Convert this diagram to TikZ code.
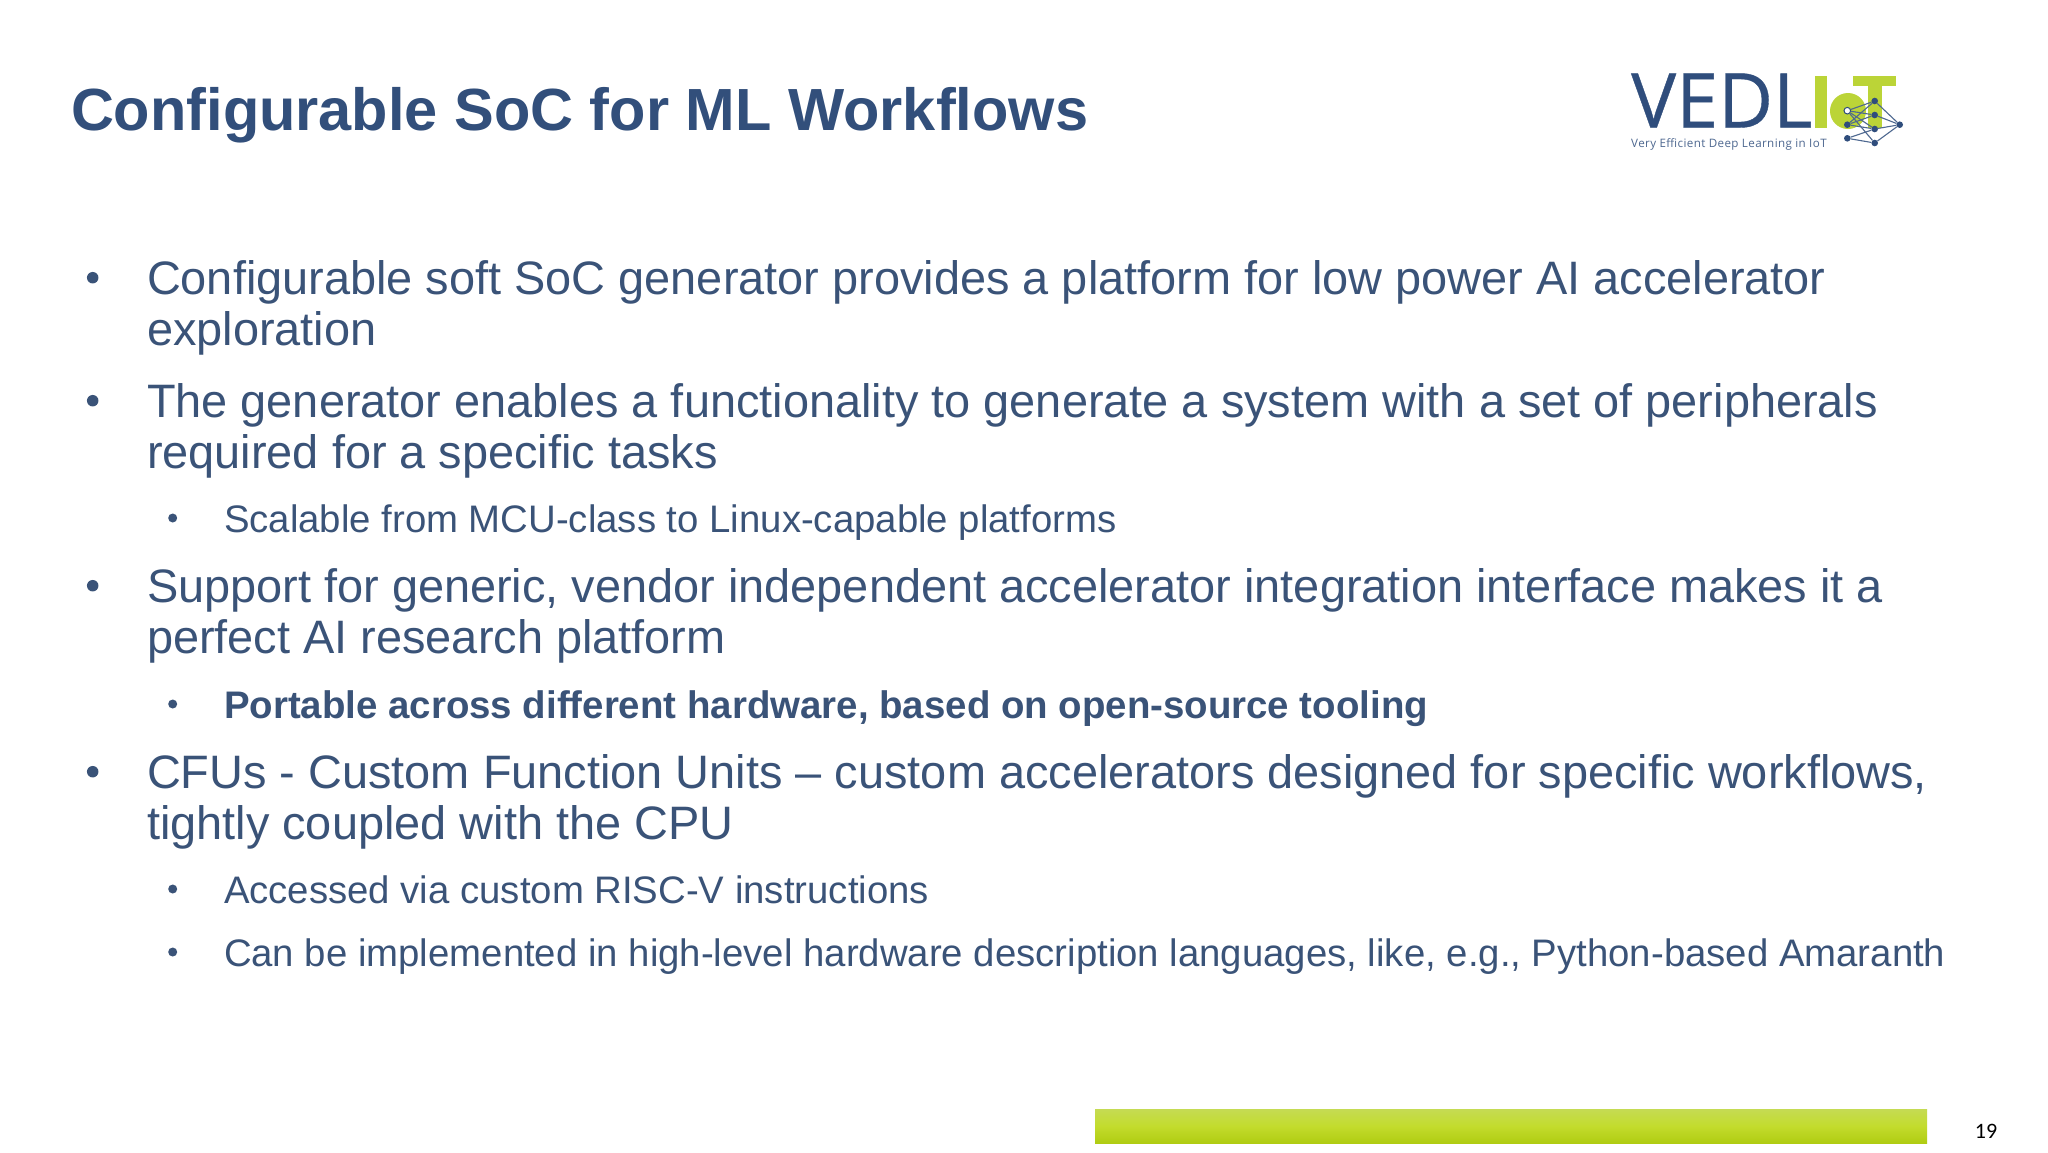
\documentclass[tikz,border=0pt]{standalone}
\usepackage{fontspec}
\setmainfont{Liberation Sans}
\newfontfamily\logofont[FakeBold=0.5]{Open Sans}
\newfontfamily\tagfont[LetterSpace=3.4]{Open Sans}
\newfontfamily\pagefont{Carlito}
\definecolor{slate}{HTML}{3A5378}
\definecolor{titleblue}{HTML}{324F7B}
\definecolor{logoblue}{HTML}{2F4D7C}
\definecolor{lime}{HTML}{BBD437}
\definecolor{barTop}{HTML}{C5DB53}
\definecolor{barMid}{HTML}{C3DC2D}
\definecolor{barBot}{HTML}{B0CC12}
\tikzset{
  x=1pt,y=-1pt,
  txt/.style={anchor=base west,inner sep=0,outer sep=0,text=slate},
  lvlA/.style={txt,font=\fontsize{46.9}{51}\selectfont},
  lvlB/.style={txt,font=\fontsize{38.33}{46}\selectfont},
  dotA/.style={circle,fill=slate,inner sep=0,minimum size=11.5pt},
  dotB/.style={circle,fill=slate,inner sep=0,minimum size=9pt},
  net/.style={draw=logoblue!85!white,line width=1.1pt},
  neuron/.style={circle,fill=logoblue,inner sep=0,minimum size=6.6pt},
}
\begin{document}
\begin{tikzpicture}
\useasboundingbox (0,0) rectangle (2048,1152);
\fill[white] (0,0) rectangle (2048,1152);
\node[txt,text=titleblue,font=\bfseries\fontsize{59.5}{66}\selectfont] (title) at (71,130) {Configurable SoC for ML Workflows};

\node[dotA] (b1) at (92.7,277.7) {};
\node[lvlA] (t1a) at (147,294.7) {Configurable soft SoC generator provides a platform for low power AI accelerator};
\node[lvlA] (t1b) at (147,345.7) {exploration};
\node[dotA] (b2) at (92.7,400.7) {};
\node[lvlA] (t2a) at (147,417.7) {The generator enables a functionality to generate a system with a set of peripherals};
\node[lvlA] (t2b) at (147,468.7) {required for a specific tasks};
\node[dotB] (b3) at (172.7,518) {};
\node[lvlB] (t3) at (224,532.7) {Scalable from MCU-class to Linux-capable platforms};
\node[dotA] (b4) at (92.7,585.7) {};
\node[lvlA] (t4a) at (147,602.7) {Support for generic, vendor independent accelerator integration interface makes it a};
\node[lvlA] (t4b) at (147,653.7) {perfect AI research platform};
\node[dotB] (b5) at (172.7,704) {};
\node[lvlB,font=\bfseries\fontsize{38.42}{46}\selectfont] (t5) at (224,718.7) {Portable across different hardware, based on open-source tooling};
\node[dotA] (b6) at (92.7,771.7) {};
\node[lvlA] (t6a) at (147,788.7) {CFUs - Custom Function Units – custom accelerators designed for specific workflows,};
\node[lvlA] (t6b) at (147,839.7) {tightly coupled with the CPU};
\node[dotB] (b7) at (172.7,889) {};
\node[lvlB] (t7) at (224,903.7) {Accessed via custom RISC-V instructions};
\node[dotB] (b8) at (172.7,952) {};
\node[lvlB] (t8) at (224,966.7) {Can be implemented in high-level hardware description languages, like, e.g., Python-based Amaranth};

% footer
\shade[top color=barTop,bottom color=barBot,middle color=barMid] (1095,1109) rectangle (1927,1143);
\node[anchor=base,inner sep=0,text=black,font=\pagefont\fontsize{22}{24}\selectfont] (page) at (1986,1138.5) {19};

% logo
\fill[lime] (1814.5,76) rectangle (1827,128);
\fill[lime] (1853,76) rectangle (1896,86);
\fill[lime] (1868,76) rectangle (1882,128);
\fill[lime] (1848,111) circle (18);
\node[anchor=base west,inner sep=0,text=logoblue,font=\logofont\fontsize{75.5}{76}\selectfont] (vedl) at (1631,127.5) {VEDL};
\node[anchor=base west,inner sep=0,text=logoblue!85!white,font=\tagfont\fontsize{11.6}{13}\selectfont] (tag) at (1631,147) {Very Efficient Deep Learning in IoT};
\node[neuron,fill=white,draw=logoblue,line width=1pt] (n1) at (1847.3,110.7) {};
\node[neuron] (n2) at (1847.3,124.7) {};
\node[neuron] (n3) at (1847.3,138.3) {};
\node[neuron] (m1) at (1874.7,101) {};
\node[neuron] (m2) at (1874.7,115) {};
\node[neuron] (m3) at (1874.7,129) {};
\node[neuron] (m4) at (1874.7,143) {};
\node[neuron] (o) at (1899.7,124.7) {};
\foreach \a/\b in {n1/m1,n1/m2,n1/m3,n1/m4,n2/m1,n2/m2,n2/m3,n3/m3,n3/m4,m1/o,m2/o,m3/o,m4/o}
  \draw[net] (\a) -- (\b);
\end{tikzpicture}
\end{document}
